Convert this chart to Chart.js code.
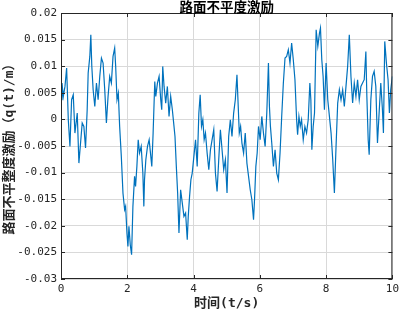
<!DOCTYPE html>
<html>
<head>
<meta charset="utf-8">
<script src="https://cdn.jsdelivr.net/npm/chart.js@4.4.0/dist/chart.umd.min.js"></script>
<style>
  html, body { margin: 0; padding: 0; background: #fff; }
  canvas { display: block; }
</style>
</head>
<body>
<canvas id="roadChart" width="403" height="311"></canvas>
<script>
// time (s)
const times = [
  0.00, 0.03, 0.07, 0.12, 0.17, 0.22, 0.27, 0.32, 0.37, 0.42, 0.49, 0.54, 0.59, 0.64, 0.69, 0.74,
  0.79, 0.82, 0.87, 0.90, 0.93, 0.97, 1.02, 1.07, 1.12, 1.17, 1.22, 1.27, 1.32, 1.37, 1.42, 1.47,
  1.52, 1.57, 1.62, 1.65, 1.69, 1.73, 1.77, 1.82, 1.87, 1.92, 1.95, 1.99, 2.02, 2.05, 2.09, 2.13,
  2.17, 2.22, 2.25, 2.29, 2.33, 2.37, 2.42, 2.47, 2.50, 2.52, 2.56, 2.61, 2.66, 2.71, 2.74, 2.78,
  2.83, 2.86, 2.91, 2.96, 3.01, 3.04, 3.07, 3.11, 3.16, 3.21, 3.26, 3.31, 3.36, 3.41, 3.44, 3.48,
  3.52, 3.56, 3.61, 3.66, 3.71, 3.76, 3.81, 3.84, 3.88, 3.92, 3.96, 4.01, 4.06, 4.11, 4.16, 4.20,
  4.24, 4.28, 4.32, 4.36, 4.41, 4.46, 4.51, 4.56, 4.61, 4.66, 4.71, 4.76, 4.81, 4.86, 4.91, 4.96,
  5.01, 5.06, 5.11, 5.16, 5.21, 5.26, 5.31, 5.34, 5.38, 5.42, 5.46, 5.51, 5.56, 5.61, 5.66, 5.71,
  5.76, 5.81, 5.84, 5.88, 5.92, 5.96, 6.01, 6.06, 6.11, 6.16, 6.21, 6.26, 6.29, 6.32, 6.36, 6.41,
  6.46, 6.51, 6.56, 6.61, 6.66, 6.71, 6.76, 6.81, 6.86, 6.91, 6.96, 7.01, 7.06, 7.11, 7.14, 7.18,
  7.22, 7.26, 7.31, 7.36, 7.41, 7.46, 7.51, 7.54, 7.57, 7.61, 7.65, 7.70, 7.75, 7.80, 7.83, 7.87,
  7.91, 7.95, 8.00, 8.05, 8.10, 8.15, 8.20, 8.25, 8.30, 8.35, 8.40, 8.45, 8.50, 8.55, 8.60, 8.65,
  8.70, 8.75, 8.80, 8.85, 8.90, 8.95, 9.00, 9.05, 9.10, 9.15, 9.20, 9.23, 9.27, 9.30, 9.35, 9.40,
  9.45, 9.50, 9.55, 9.60, 9.65, 9.70, 9.73, 9.77, 9.82, 9.87, 9.91, 9.95, 10.00
];

// q(t) in mm, converted to m below
const qmm = [
  3.70, 6.83, 4.32, 6.20, 9.65, -0.06, -5.08, 3.70, 4.64, -2.57, 1.19, -8.21, -4.45, -0.69, -1.32, -5.39,
  1.82, 8.71, 11.84, 15.91, 9.96, 5.58, 2.44, 6.83, 3.70, 8.08, 11.53, 10.59, 5.58, -0.69, 4.32, 8.08,
  6.83, 11.84, 13.41, 9.96, 3.70, 4.95, -1.32, -6.95, -13.85, -16.98, -16.35, -21.37, -23.87, -20.11, -23.56, -25.44,
  -16.35, -10.71, -12.59, -8.83, -3.82, -6.33, -5.08, -10.09, -16.35, -11.34, -7.58, -5.08, -3.82, -6.95, -8.83, -2.57,
  7.14, 4.32, 6.83, 8.08, 3.70, 1.82, 9.96, 6.20, 3.07, 6.20, 0.56, 4.32, 1.82, -1.32, -3.20, -8.83,
  -13.85, -21.37, -13.22, -15.73, -18.23, -17.61, -22.62, -18.23, -14.47, -11.34, -10.09, -6.95, -3.82, -8.83, 1.19, 4.64,
  -1.32, -0.06, -3.82, -2.57, -6.33, -9.46, -5.70, -3.82, -1.94, -10.09, -13.53, -7.58, -1.94, -5.70, -9.46, -7.58,
  -13.85, -3.20, -0.06, -3.20, 1.19, 3.70, 8.40, 3.70, -2.57, -1.32, -4.45, -6.33, -2.57, -8.21, -10.71, -13.22,
  -15.10, -18.86, -15.10, -8.83, -6.33, -1.32, -3.82, 0.56, -2.57, -5.08, 1.19, 10.59, 2.44, -1.32, -4.45, -8.83,
  -5.70, -10.09, -11.34, -6.33, 0.56, 6.83, 11.53, 11.84, 13.10, 10.59, 14.35, 11.22, 7.46, -0.06, -2.88, 0.56,
  -1.32, -0.06, -3.82, -1.32, -2.57, -0.06, 6.83, 3.70, -5.70, -1.32, 1.19, 16.85, 13.72, 16.23, 17.17, 11.22,
  8.08, 1.82, 10.59, 3.70, 0.56, -2.57, -7.58, -13.85, -5.08, 3.07, 5.58, 3.70, 5.58, 2.44, 6.20, 9.96,
  15.91, 8.08, 3.07, 6.83, 4.32, 7.46, 3.70, 6.20, 6.83, 7.46, 12.78, 4.32, -3.82, -6.64, 3.70, 8.08,
  9.02, 6.20, -4.45, 1.19, 6.83, 1.82, -2.57, 14.66, 10.59, 7.46, 1.19, 5.58, 8.08
];

const yTicks = [0.02, 0.015, 0.01, 0.005, 0, -0.005, -0.01, -0.015, -0.02, -0.025, -0.03];
const xTicks = [0, 2, 4, 6, 8, 10];

const points = times.map((t, i) => ({ x: t, y: qmm[i] / 1000 }));

const tickFont = { family: "'DejaVu Sans Mono', 'Noto Sans CJK SC'", size: 11 };
const labelFont = { family: "'DejaVu Sans Mono', 'Noto Sans CJK SC'", size: 13, weight: "bold" };

// box round the plot, with inward tick marks like MATLAB
const frame = {
  id: "frame",
  afterDraw(chart) {
    const { ctx, chartArea: a, scales } = chart;
    ctx.save();
    ctx.strokeStyle = "#262626";
    ctx.lineWidth = 1;
    ctx.strokeRect(a.left + 0.5, a.top + 0.5, a.right - a.left - 1, a.bottom - a.top - 1);
    ctx.beginPath();
    yTicks.forEach(v => {
      const y = Math.round(scales.y.getPixelForValue(v)) + 0.5;
      ctx.moveTo(a.left, y); ctx.lineTo(a.left + 4, y);
      ctx.moveTo(a.right, y); ctx.lineTo(a.right - 4, y);
    });
    xTicks.forEach(v => {
      const x = Math.round(scales.x.getPixelForValue(v)) + 0.5;
      ctx.moveTo(x, a.bottom); ctx.lineTo(x, a.bottom - 4);
      ctx.moveTo(x, a.top); ctx.lineTo(x, a.top + 4);
    });
    ctx.stroke();
    // title sits on the top edge
    ctx.fillStyle = "#000";
    ctx.font = "bold 13.5px 'Noto Sans CJK SC'";
    ctx.textAlign = "center";
    ctx.textBaseline = "middle";
    ctx.fillText("路面不平度激励", (a.left + a.right) / 2, 7);
    ctx.restore();
  }
};

new Chart(document.getElementById("roadChart"), {
  type: "line",
  data: {
    datasets: [{
      data: points,
      borderColor: "#0072BD",
      borderWidth: 1.2,
      pointRadius: 0,
      tension: 0,
      fill: false,
    }],
  },
  options: {
    responsive: false,
    animation: false,
    layout: { padding: { left: 0, right: 8, top: 13, bottom: 0 } },
    plugins: {
      legend: { display: false },
      tooltip: { enabled: false },
    },
    scales: {
      x: {
        type: "linear",
        min: 0,
        max: 10,
        afterBuildTicks: s => { s.ticks = xTicks.map(v => ({ value: v })); },
        ticks: { font: tickFont, color: "#262626", padding: 4, maxRotation: 0 },
        grid: { color: "#d9d9d9", drawTicks: false },
        border: { display: false },
        title: { display: true, text: "时间(t/s)", font: labelFont, color: "#262626", padding: { top: 0, bottom: 0 } },
        afterFit: s => { s.height = 32; },
      },
      y: {
        min: -0.03,
        max: 0.02,
        afterBuildTicks: s => { s.ticks = yTicks.map(v => ({ value: v })); },
        ticks: {
          font: tickFont,
          color: "#262626",
          padding: 4,
          callback: v => String(Math.round(v * 1000) / 1000),
        },
        grid: { color: "#d9d9d9", drawTicks: false },
        border: { display: false },
        title: { display: true, text: "路面不平整度激励（q(t)/m）", font: labelFont, color: "#262626", padding: { top: 2, bottom: 0 } },
        afterFit: s => { s.width = 61; },
      },
    },
  },
  plugins: [frame],
});
</script>
</body>
</html>
